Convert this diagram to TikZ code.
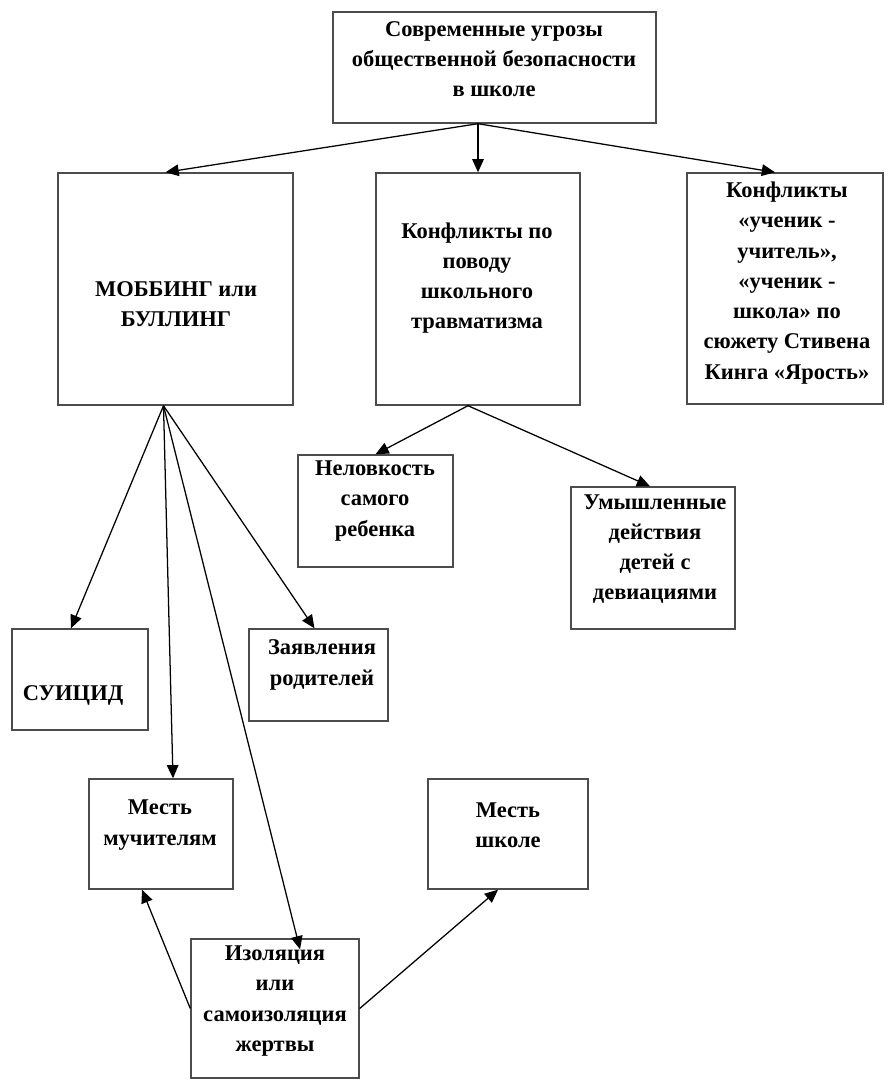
\documentclass[tikz,border=0pt]{standalone}
\usepackage{fontspec}
\setmainfont{Liberation Serif}
\usetikzlibrary{arrows.meta,fit}
\tikzset{
    box/.style={draw=black!70, line width=1pt, inner sep=0pt},
    txt/.style={font=\fontsize{16}{21.5}\selectfont\bfseries, align=center, inner sep=0pt},
    arr/.style={line width=0.9pt, -{Triangle[length=0.33cm,width=0.29cm]}}
}
% box from its corners (in pixels)
\newcommand{\bx}[5]{
    \node[box, fit={(#2,#3) (#4,#5)}] (#1) {};
}

\begin{document}
\begin{tikzpicture}[x=0.025cm,y=-0.025cm]
\useasboundingbox (0,0) rectangle (894,1080);
% boxes
\bx{top}{333}{12}{656}{123}
\bx{mob}{58}{173}{293}{405}
\bx{trav}{376}{173}{580}{405}
\bx{conf}{687}{173}{883}{404}
\bx{nel}{298}{455}{453}{567}
\bx{umy}{571}{487}{735}{629}
\bx{sui}{12}{629}{148}{730}
\bx{zay}{249}{629}{388}{721}
\bx{mm}{89}{779}{233}{889}
\bx{msh}{428}{779}{588}{889}
\bx{iso}{191}{939}{359}{1078}
% texts
\node[txt] (top-t) at (494,59) {Современные угрозы\\общественной безопасности\\в школе};
\node[txt] (mob-t) at (176,304) {МОББИНГ или\\БУЛЛИНГ};
\node[txt] (trav-t) at (477,278) {Конфликты по\\поводу\\школьного\\травматизма};
\node[txt] (conf-t) at (787,283) {Конфликты\\«ученик -\\учитель»,\\«ученик -\\школа» по\\сюжету Стивена\\Кинга «Ярость»};
\node[txt] (nel-t) at (375,501) {Неловкость\\самого\\ребенка};
\node[txt] (umy-t) at (655,549) {Умышленные\\действия\\детей с\\девиациями};
\node[txt] (sui-t) at (73,695) {СУИЦИД};
\node[txt] (zay-t) at (322,665) {Заявления\\родителей};
\node[txt] (mm-t) at (160,825) {Месть\\мучителям};
\node[txt] (msh-t) at (508,825) {Месть\\школе};
\node[txt] (iso-t) at (275,1001) {Изоляция\\или\\самоизоляция\\жертвы};
% connectors
\coordinate (top-o) at (top.south -| trav.north);
\coordinate (trav-o) at ([xshift=-0.25cm]trav.south);
\coordinate (mob-o) at ([xshift=-0.3cm]mob.south);
\draw[arr] (top-o) -- ([xshift=-0.25cm]mob.north);
\draw[arr] (top-o) -- (trav.north);
\draw[arr] (top-o) -- ([xshift=-0.25cm]conf.north);
\draw[arr] (trav-o) -- (nel.north);
\draw[arr] (trav-o) -- ([xshift=-0.075cm]umy.north);
\draw[arr] (mob-o) -- ([xshift=-0.225cm]sui.north);
\draw[arr] (mob-o) -- ([xshift=0.3cm]mm.north);
\draw[arr] (mob-o) -- ([xshift=0.625cm,yshift=-0.275cm]iso.north);
\draw[arr] (mob-o) -- ([xshift=-0.1cm]zay.north);
\draw[arr] (iso.west) -- ([xshift=-0.475cm]mm.south);
\draw[arr] (iso.east) -- ([xshift=-0.25cm]msh.south);
\end{tikzpicture}
\end{document}
